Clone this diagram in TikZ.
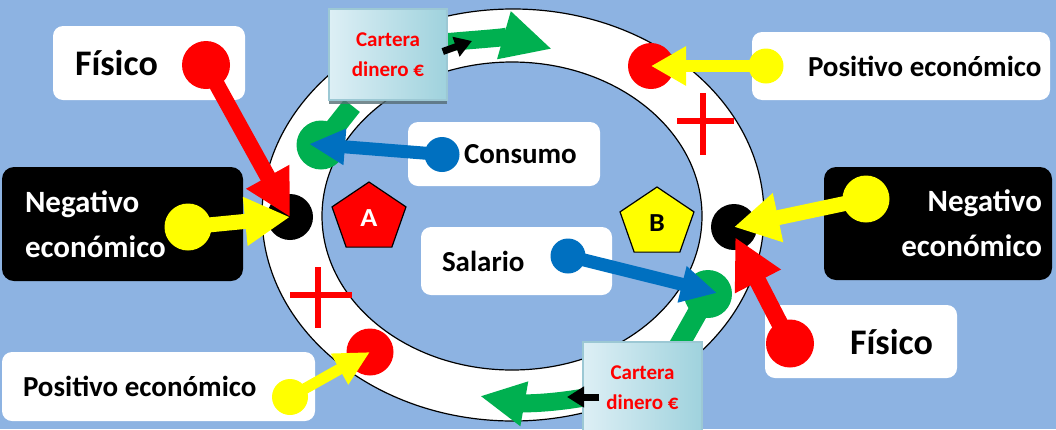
\documentclass[tikz,border=0pt]{standalone}
\usepackage{fontspec}
\setmainfont{Carlito}
\usetikzlibrary{arrows.meta,shapes.geometric,calc,shadows}
\definecolor{bgblue}{HTML}{8DB3E2}
\definecolor{myred}{HTML}{FF0000}
\definecolor{myyel}{HTML}{FFFF00}
\definecolor{myblue}{HTML}{0070C0}
\definecolor{mygreen}{HTML}{00B050}
\definecolor{cartlight}{HTML}{DDEFF5}
\definecolor{cartdark}{HTML}{9FD2DD}
\definecolor{cartedge}{HTML}{9CC8D4}
\pgfdeclarelayer{bg}
\pgfdeclarelayer{mid}
\pgfsetlayers{bg,mid,main}
\begin{document}
\begin{tikzpicture}[x=1pt,y=-1pt,
  wbox/.style={rectangle, fill=white, rounded corners=10pt, inner sep=0pt, align=flush left},
  kbox/.style={rectangle, fill=black, rounded corners=12pt, inner ysep=0pt, text=white},
  fA/.style={font=\bfseries\fontsize{36}{40}\selectfont},
  fB/.style={font=\bfseries\fontsize{31}{45}\selectfont},
  fC/.style={font=\bfseries\fontsize{29}{34}\selectfont},
  cartbox/.style={rectangle, draw=cartedge, line width=1.5pt, left color=cartlight, right color=cartdark,
     text=myred, align=center, inner sep=0pt, font=\bfseries\fontsize{21}{30}\selectfont,
     drop shadow={shadow xshift=0pt, shadow yshift=-4pt, fill=black!45!cartedge, opacity=0.8}},
  disc/.style={circle, inner sep=0pt, minimum size=#1},
  pent/.style={regular polygon, regular polygon sides=5, minimum size=72pt, inner sep=0pt, xscale=1.08,
     draw=black, line width=1.2pt, font=\bfseries\fontsize{26}{30}\selectfont},
  arr/.style n args={3}{line width=#1, -{Triangle[width=#2, length=#3]}},
  gband/.style={line width=20pt, mygreen},
  garr/.style n args={2}{line width=18pt, mygreen, -{Triangle[width=#1, length=#2]}},
  karr/.style={line width=7pt, black, -{Triangle[width=20pt, length=17pt]}},
  plus/.style={line width=6pt, myred}
]
\useasboundingbox (0,0) rectangle (1056,429);
\begin{pgfonlayer}{bg}
\fill[bgblue] (0,0) rectangle (1056,429);
\filldraw[fill=white, draw=black, line width=1.2pt, even odd rule]
  (513,215) ellipse [x radius=251, y radius=206]
  (512,216) ellipse [x radius=190, y radius=154];
\end{pgfonlayer}

% boxes
\node[wbox, fA, text width=192pt, minimum height=74pt] (fisL) at (149,63) {\hspace*{22pt}Físico};
\node[kbox, fB, inner xsep=23pt, text width=195pt, minimum height=114pt, align=flush left] (negL) at (122.5,224) {Negativo\\económico};
\node[wbox, fC, text width=313pt, minimum height=69pt] (posL) at (158.5,386.5) {\hspace*{21pt}Positivo económico};
\node[wbox, fC, text width=298pt, minimum height=68pt] (posR) at (901,66) {\hspace*{56pt}Positivo económico};
\node[kbox, fB, inner xsep=10pt, text width=208pt, minimum height=113pt, align=flush right] (negR) at (938,223.5) {Negativo\\económico};
\node[wbox, fA, text width=192pt, minimum height=73pt] (fisR) at (861,341.5) {\hspace*{85pt}Físico};
\node[wbox, fC, text width=192pt, minimum height=64pt] (cons) at (504,154) {\hspace*{56pt}Consumo};
\node[wbox, fC, text width=191pt, minimum height=68pt] (sal) at (516.5,261) {\hspace*{21pt}Salario};

% wallets
\node[cartbox, minimum width=118pt, minimum height=91pt] (cart1) at (388,54.5) {Cartera\\dinero €};
\node[cartbox, minimum width=119pt, minimum height=92pt] (cart2) at (642.5,388) {Cartera\\dinero €};

% pentagons
\node[pent, fill=myred, text=white] (pA) at (369,218) {A};
\node[pent, fill=myyel, text=black] (pB) at (657,223) {B};

% target dots
\node[disc=46pt, fill=black] (bL) at (290,217) {};
\node[disc=46pt, fill=black] (bR) at (734,227) {};
\node[disc=46pt, fill=myred] (rTR) at (651,66) {};
\node[disc=47pt, fill=myred] (rBL) at (370,352) {};
\node[disc=49pt, fill=mygreen] (gTL) at (321,145) {};
\node[disc=48pt, fill=mygreen] (gBR) at (708,294) {};

% source dots
\node[disc=48pt, fill=myred] (rL) at (206,65) {};
\node[disc=47pt, fill=myyel] (yL) at (188,227) {};
\node[disc=36pt, fill=myyel] (yBL) at (290,397) {};
\node[disc=35pt, fill=myyel] (yTR) at (766,66) {};
\node[disc=47pt, fill=myyel] (yR) at (866,199) {};
\node[disc=48pt, fill=myred] (rR) at (790,343.5) {};
\node[disc=35pt, fill=myblue] (blC) at (442,154.5) {};
\node[disc=35pt, fill=myblue] (blS) at (568,256) {};

% free ends
\coordinate (g1tip) at (552,49);
\coordinate (g2tip) at (480,396);
\coordinate (k1tip) at (472,41);
\coordinate (k2tip) at (567,397);

% green flow (under the wallets)
\begin{pgfonlayer}{mid}
\draw[gband] (gTL.center) -- ($(cart1.south)+(-36,5)$);
\draw[gband] (gBR.center) -- ($(cart2.north)+(36,5)$);
\draw[garr={46pt}{50pt}] ($(cart1.east)+(-5,-12)$) to[out=5, in=164] (g1tip);
\draw[garr={42pt}{45pt}] ($(cart2.west)+(5,9)$) to[out=190, in=-10] (g2tip);
\end{pgfonlayer}

% black small arrows
\draw[karr] ($(cart1.east)+(-5,-3)$) -- (k1tip);
\draw[karr] ($(cart2.west)+(17,9)$) -- (k2tip);

% connectors
\draw[arr={16pt}{46pt}{46pt}, myred] (rL.center) -- (bL.center);
\draw[arr={15pt}{46pt}{45pt}, myyel] (yL.center) -- (bL.center);
\draw[arr={15pt}{47pt}{45pt}, myyel] (yR.center) -- (bR.center);
\draw[arr={17pt}{48pt}{50pt}, myred] (rR.center) -- ($(bR.center)+(1,10)$);
\draw[arr={12pt}{37pt}{35pt}, myyel] (yTR.center) -- (rTR.center);
\draw[arr={11pt}{33pt}{35pt}, myyel] (yBL.center) -- (rBL.center);
\draw[arr={13pt}{34pt}{36pt}, myblue] (blC.center) -- ($(gTL.center)+(-12,-1)$);
\draw[arr={13pt}{35pt}{36pt}, myblue] (blS.center) -- ($(gBR.center)+(9,-1)$);

% plus signs
\draw[plus] (290,295) -- (352,295) (318,267) -- (318,328);
\draw[plus] (677,121) -- (734,121) (703,93) -- (703,155);
\end{tikzpicture}
\end{document}
